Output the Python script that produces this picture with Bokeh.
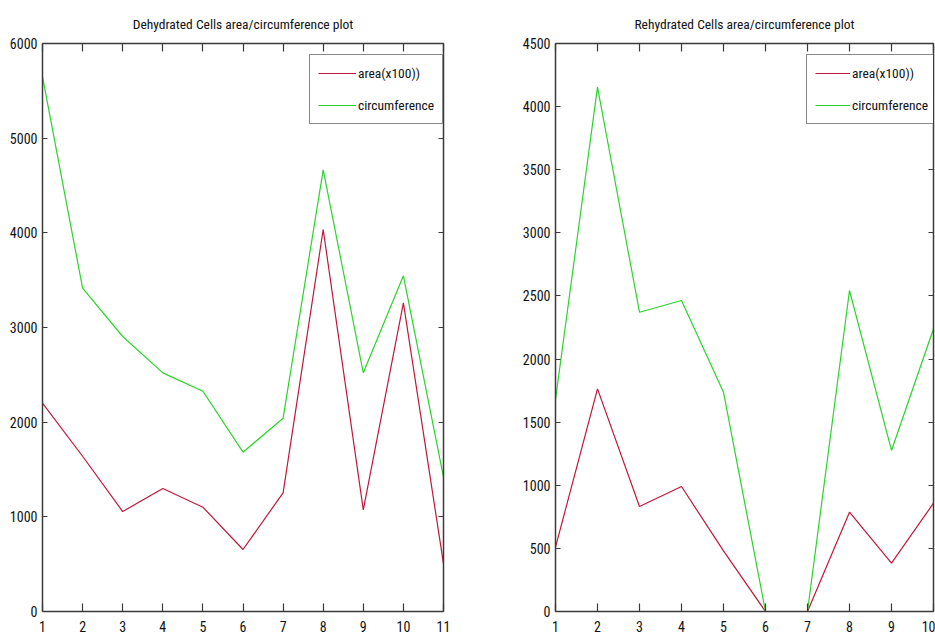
from bokeh.plotting import figure
from bokeh.layouts import row
from bokeh.models import (Range1d, LinearAxis, FixedTicker, Legend, LegendItem,
                          CustomJSTickFormatter)
from bokeh.embed import file_html
from bokeh.resources import INLINE

# ---- data ----
x_dehyd = [1, 2, 3, 4, 5, 6, 7, 8, 9, 10, 11]
area_dehyd = [2200, 1640, 1056, 1299, 1102, 655, 1254, 4035, 1074, 3261, 504]
circ_dehyd = [5650, 3415, 2905, 2521, 2327, 1683, 2042, 4665, 2521, 3546, 1419]
yticks_dehyd = [0, 1000, 2000, 3000, 4000, 5000, 6000]

x_rehyd = [1, 2, 3, 4, 5, 6, 7, 8, 9, 10]
area_rehyd = [510, 1764, 832, 990, 480, 0, 0, 787, 383, 858]
circ_rehyd = [1680, 4154, 2371, 2464, 1738, 0, 0, 2543, 1276, 2240]
yticks_rehyd = [0, 500, 1000, 1500, 2000, 2500, 3000, 3500, 4000, 4500]

titles = ["Dehydrated Cells area/circumference plot",
          "Rehydrated Cells area/circumference plot"]
series_labels = ["area(x100))", "circumference"]

FONT = "Roboto Condensed"
RED = "#c0183a"
GREEN = "#2ad42a"
AX = "#3a3a3a"


def style_axis(ax, ticks, show_labels, tick_in, standoff=4):
    ax.ticker = FixedTicker(ticks=ticks)
    ax.axis_line_color = AX
    ax.axis_line_width = 1.5
    ax.major_tick_line_color = AX
    ax.major_tick_line_width = 1.2
    ax.major_tick_in = tick_in
    ax.major_tick_out = 0
    ax.minor_tick_line_color = None
    if show_labels:
        ax.major_label_text_font = FONT
        ax.major_label_text_font_size = "14px"
        ax.major_label_text_color = "#111111"
        ax.major_label_standoff = standoff
    else:
        ax.formatter = CustomJSTickFormatter(code="return ''")
        ax.major_label_text_font_size = "1px"
        ax.major_label_standoff = 0


def make_fig(title, xs, area, circ, yticks, width, mbl, mbr, leg_loc, glyph_w):
    p = figure(width=width, height=641, x_range=Range1d(xs[0], xs[-1]),
               y_range=Range1d(yticks[0], yticks[-1]),
               output_backend="svg", toolbar_location=None,
               min_border_left=mbl, min_border_right=mbr,
               min_border_top=43, min_border_bottom=30,
               title=title)
    p.title.text_font = FONT
    p.title.text_font_size = "13.5px"
    p.title.text_font_style = "normal"
    p.title.text_color = "#111111"
    p.title.align = "center"
    p.title.standoff = 23
    p.outline_line_color = None
    p.xgrid.visible = False
    p.ygrid.visible = False
    p.background_fill_color = "white"
    p.border_fill_color = "white"

    style_axis(p.xaxis[0], xs, True, 8, standoff=9)
    style_axis(p.yaxis[0], yticks, True, 5, standoff=5)
    top = LinearAxis()
    style_axis(top, xs, False, 8)
    p.add_layout(top, "above")
    right = LinearAxis()
    style_axis(right, yticks, False, 5)
    p.add_layout(right, "right")

    r1 = p.line(xs, area, line_color=RED, line_width=1.2)
    r2 = p.line(xs, circ, line_color=GREEN, line_width=1.2)

    leg = Legend(items=[LegendItem(label=series_labels[0], renderers=[r1]),
                        LegendItem(label=series_labels[1], renderers=[r2])],
                 location=leg_loc)
    leg.border_line_color = "#111111"
    leg.border_line_width = 1.5
    leg.background_fill_color = "white"
    leg.background_fill_alpha = 1.0
    leg.label_text_font = FONT
    leg.label_text_font_size = "13.5px"
    leg.label_text_color = "#111111"
    leg.glyph_width = glyph_w
    leg.glyph_height = 20
    leg.label_height = 20
    leg.label_standoff = 2
    leg.spacing = 12
    leg.padding = 8
    leg.margin = 0
    p.add_layout(leg)
    return p


p1 = make_fig(titles[0], x_dehyd, area_dehyd, circ_dehyd, yticks_dehyd,
              470, 42, 27, (267, 487), 38)
p2 = make_fig(titles[1], x_rehyd, area_rehyd, circ_rehyd, yticks_rehyd,
              465, 85, 2, (251, 487), 35)

layout = row(p1, p2, spacing=0)
open("out.html", "w").write(file_html(layout, INLINE))
